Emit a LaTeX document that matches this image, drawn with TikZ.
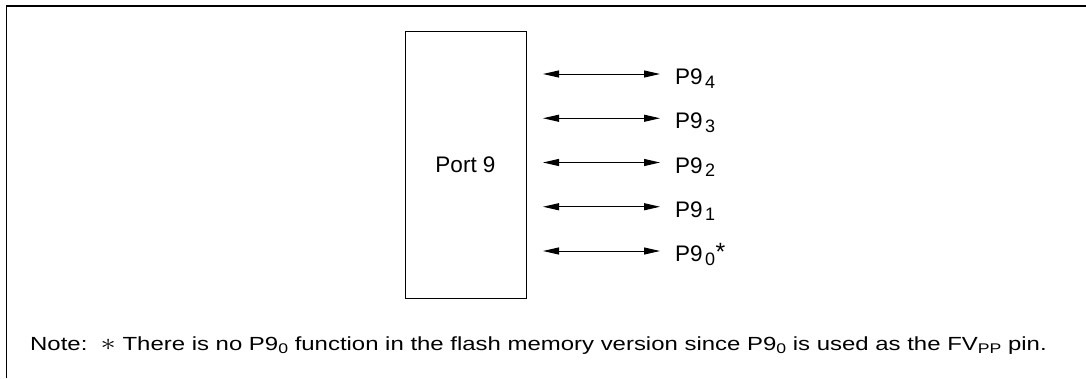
\documentclass[tikz,border=0pt]{standalone}
\usepackage{fontspec}
\setmainfont{Liberation Sans}
\usetikzlibrary{arrows.meta,positioning,calc}
\newcommand\pinsub[1]{\kern2.5pt\raisebox{-3.7pt}{\fontsize{18}{18}\selectfont #1}}
\newcommand\pinstar{\kern0.5pt\raisebox{1pt}{\fontsize{25}{25}\selectfont *}}
\newcommand\notesub[1]{\raisebox{-3pt}{\fontsize{14}{14}\selectfont #1}}

\begin{document}
\begin{tikzpicture}[x=1pt,y=-1pt,
  portbox/.style={draw,line width=1pt,minimum width=121pt,minimum height=267pt,inner sep=0pt,font=\fontsize{22.5}{27}\selectfont},
  pinlbl/.style={anchor=base west,inner xsep=15pt,inner ysep=0pt,font=\fontsize{22.5}{27}\selectfont},
  pinarrow/.style={{Triangle[length=16pt,width=7pt]}-{Triangle[length=16pt,width=7pt]},line width=1pt}]
  \useasboundingbox (0,0) rectangle (1086,378);
  % frame
  \draw[line width=1.3pt] (6.5,378) -- (6.5,6) -- (1086,6);
  \node[portbox] (port) at (465.5,164.5) {\raisebox{-1.5pt}{Port 9}};
  % pins
  \coordinate (l4) at (543,74);
  \coordinate (l3) at (543,118.25);
  \coordinate (l2) at (543,162.5);
  \coordinate (l1) at (543,206.75);
  \coordinate (l0) at (543,251);
  \node[pinlbl] (p4) at ($(l4)+(117,10.5)$) {P9\pinsub{4}};
  \node[pinlbl] (p3) at ($(l3)+(117,10.5)$) {P9\pinsub{3}};
  \node[pinlbl] (p2) at ($(l2)+(117,10.5)$) {P9\pinsub{2}};
  \node[pinlbl] (p1) at ($(l1)+(117,10.5)$) {P9\pinsub{1}};
  \node[pinlbl] (p0) at ($(l0)+(117,10.5)$) {P9\pinsub{0}\pinstar};
  \foreach \i in {4,3,2,1,0}
    \draw[pinarrow] (l\i) -- (l\i -| p\i.west);
  % note
  \node[anchor=base west,inner sep=0pt,font=\fontsize{19}{22}\selectfont] (note) at (30,350.5)
    {\scalebox{1.26}[1]{Note:\ \ \scalebox{1.4}{$\ast$} There is no P9\notesub{0} function in the flash memory version since P9\notesub{0} is used as the FV\notesub{PP} pin.}};
\end{tikzpicture}
\end{document}
